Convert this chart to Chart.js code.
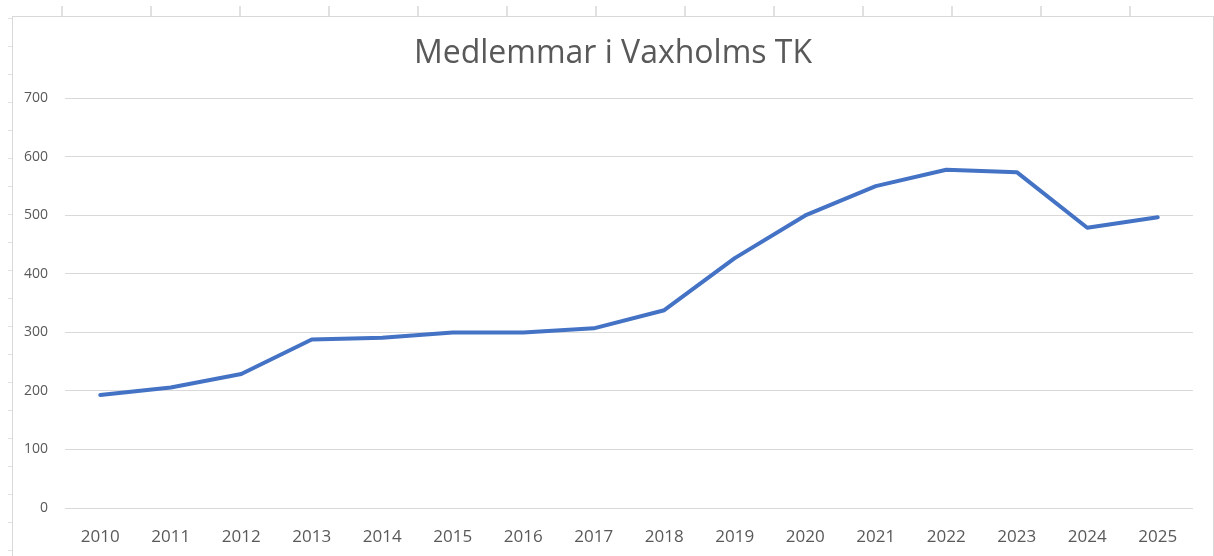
<!DOCTYPE html>
<html>
<head>
<meta charset="utf-8">
<script src="https://cdn.jsdelivr.net/npm/chart.js@4"></script>
<style>
  html, body { margin: 0; padding: 0; background: #fff; }
  body { width: 1214px; height: 556px; position: relative; overflow: hidden; }
  /* spreadsheet cell borders peeking out behind the chart */
  #colLines {
    position: absolute; left: 0; top: 6px; width: 1214px; height: 10px;
    background: repeating-linear-gradient(to right, transparent 0, transparent 60px, #e1e1e1 60px, #e1e1e1 62px, transparent 62px, transparent 89px);
    background-position: 1px 0;
  }
  #rowLines {
    position: absolute; left: 8px; top: 0; width: 4px; height: 556px;
    background: repeating-linear-gradient(to bottom, transparent 0, transparent 18px, #e1e1e1 18px, #e1e1e1 19px, transparent 19px, transparent 28px);
    background-position: 0 0;
  }
  #box {
    position: absolute; left: 12px; top: 16px; width: 1200px; height: 560px;
    border: 1px solid #d9d9d9; border-bottom: none; background: #fff;
  }
  #wrap { position: absolute; left: 0; top: 0; width: 1200px; height: 539px; }
</style>
</head>
<body>
<div id="colLines"></div>
<div id="rowLines"></div>
<div id="box">
  <div id="wrap"><canvas id="members"></canvas></div>
</div>
<script>
// Members per year
const years = ["2010","2011","2012","2013","2014","2015","2016","2017",
               "2018","2019","2020","2021","2022","2023","2024","2025"];
const members = [193,206,229,288,291,300,300,307,338,427,500,550,578,574,479,497];
const yTicks = [0,100,200,300,400,500,600,700];

const grey = "#595959";

new Chart(document.getElementById("members"), {
    type: "line",
    data: {
        labels: years,
        datasets: [{
            label: "Medlemmar",
            data: members,
            borderColor: "#4472C4",
            borderWidth: 4,
            pointRadius: 0,
            tension: 0,
            borderCapStyle: "round",
            borderJoinStyle: "round"
        }]
    },
    options: {
        responsive: true,
        maintainAspectRatio: false,
        animation: false,
        layout: { padding: 0 },
        plugins: {
            legend: { display: false },
            tooltip: { enabled: false },
            title: {
                display: true,
                text: "Medlemmar i Vaxholms TK",
                color: grey,
                font: { family: "Open Sans", size: 32, weight: "normal" },
                padding: { top: 18, bottom: 25 }
            }
        },
        scales: {
            x: {
                offset: true,
                grid: { display: false },
                border: { display: false },
                ticks: {
                    color: grey,
                    font: { family: "Open Sans", size: 17 },
                    padding: 11,
                    maxRotation: 0
                },
                // keep the plot's right edge 20px in without shifting the centred title
                afterFit: s => { s.height = 48; s.paddingRight = 20; }
            },
            y: {
                min: 0,
                max: 700,
                afterBuildTicks: s => { s.ticks = yTicks.map(v => ({ value: v })); },
                grid: { color: "#d9d9d9", lineWidth: 1, drawTicks: false },
                border: { display: false },
                ticks: {
                    color: grey,
                    font: { family: "Open Sans", size: 14 },
                    padding: 17
                },
                afterFit: s => { s.width = 52; }
            }
        }
    }
});
</script>
</body>
</html>
